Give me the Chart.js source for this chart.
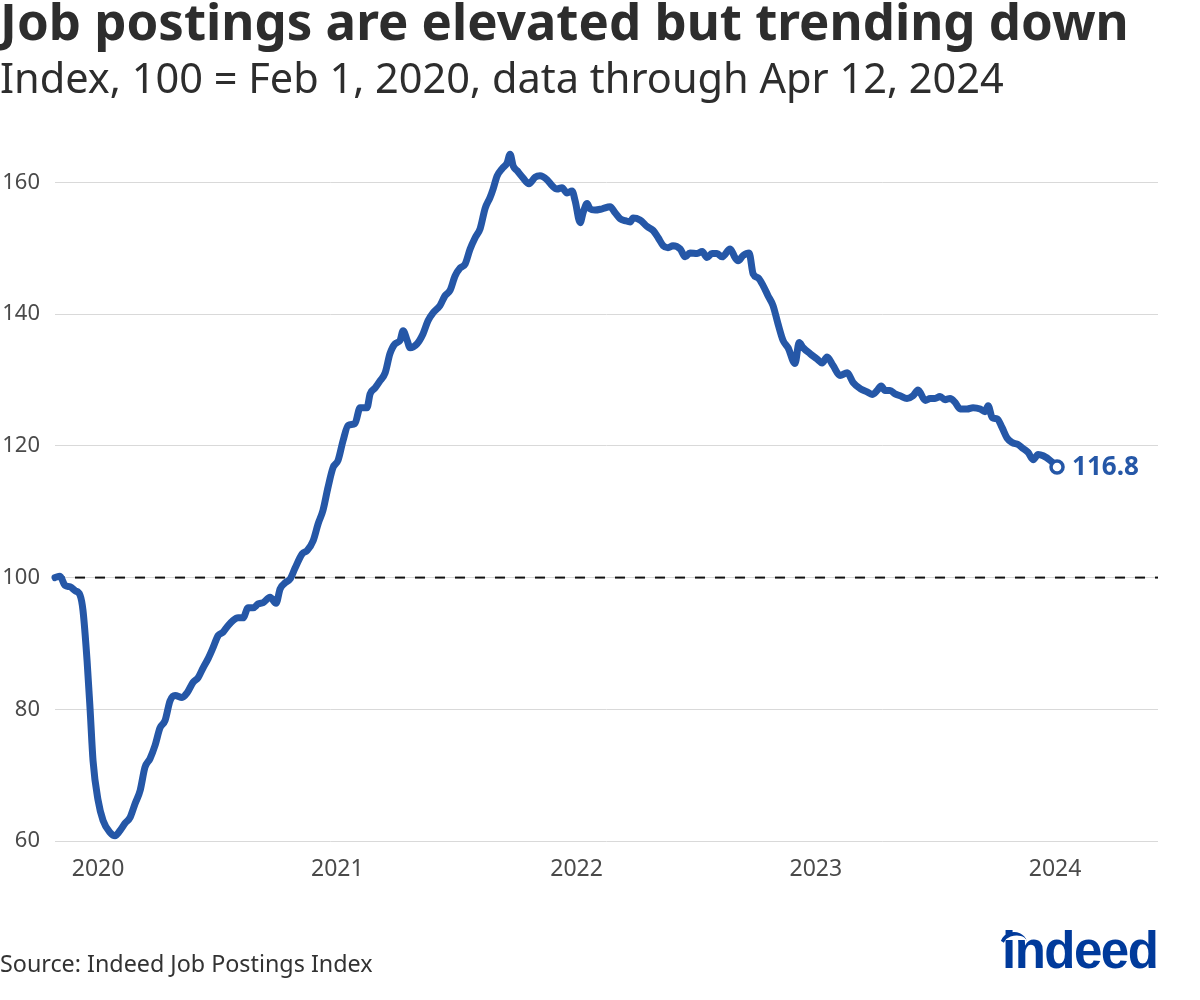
<!DOCTYPE html>
<html>
<head>
<meta charset="utf-8">
<script src="https://cdn.jsdelivr.net/npm/chart.js@4.4.1/dist/chart.umd.min.js"></script>
<style>
html, body { margin: 0; padding: 0; background: #fff; }
#wrap { position: relative; width: 1200px; height: 1000px; overflow: hidden; font-family: "Noto Sans", sans-serif; }
#chart { position: absolute; left: 0; top: 0; }
.txt { position: absolute; left: 0; white-space: nowrap; line-height: 1; color: #2d2d2d; }
#title { top: -5px; font-size: 51px; font-weight: 700; }
#subtitle { top: 57px; font-size: 41.5px; }
#source { top: 952px; font-size: 23.3px; color: #333; }
#logo { position: absolute; left: 1002px; top: 925px; font-family: "Liberation Sans", Arial, sans-serif; font-weight: 700; font-size: 51px; color: #003a9b; letter-spacing: -1.5px; line-height: 1; }
#arc { position: absolute; left: 1000px; top: 932px; width: 28px; height: 28px; border-top: 4px solid #003a9b; border-left: 3px solid transparent; border-radius: 50%; transform: rotate(-20deg); box-sizing: border-box; }
</style>
</head>
<body>
<div id="wrap">
  <canvas id="chart" width="1200" height="1000"></canvas>
  <div id="title" class="txt">Job postings are elevated but trending down</div>
  <div id="subtitle" class="txt">Index, 100 = Feb 1, 2020, data through Apr 12, 2024</div>
  <div id="source" class="txt">Source: Indeed Job Postings Index</div>
  <div id="arc"></div>
  <div id="logo">indeed</div>
</div>
<script>
// x positions are in axis-years (integer = where the year label sits)
const xs = [
  2019.820, 2019.841, 2019.862, 2019.883, 2019.904, 2019.925, 2019.937, 2019.954, 2019.967, 2019.979,
  2020.000, 2020.021, 2020.050, 2020.071, 2020.092, 2020.113, 2020.134, 2020.155, 2020.176, 2020.196,
  2020.217, 2020.238, 2020.259, 2020.280, 2020.301, 2020.322, 2020.351, 2020.372, 2020.397, 2020.418,
  2020.439, 2020.460, 2020.481, 2020.502, 2020.522, 2020.543, 2020.564, 2020.585, 2020.606, 2020.627,
  2020.648, 2020.669, 2020.690, 2020.719, 2020.744, 2020.761, 2020.782, 2020.803, 2020.823, 2020.853,
  2020.874, 2020.899, 2020.920, 2020.940, 2020.961, 2020.982, 2021.003, 2021.024, 2021.045, 2021.074,
  2021.095, 2021.124, 2021.137, 2021.158, 2021.179, 2021.200, 2021.220, 2021.241, 2021.262, 2021.275,
  2021.292, 2021.304, 2021.333, 2021.358, 2021.379, 2021.400, 2021.429, 2021.450, 2021.471, 2021.492,
  2021.513, 2021.534, 2021.555, 2021.576, 2021.597, 2021.618, 2021.638, 2021.651, 2021.668, 2021.689,
  2021.710, 2021.722, 2021.735, 2021.751, 2021.776, 2021.801, 2021.827, 2021.847, 2021.877, 2021.898,
  2021.918, 2021.939, 2021.960, 2021.981, 2021.994, 2022.015, 2022.027, 2022.044, 2022.056, 2022.077,
  2022.107, 2022.140, 2022.161, 2022.182, 2022.203, 2022.224, 2022.236, 2022.265, 2022.295, 2022.320,
  2022.341, 2022.362, 2022.382, 2022.403, 2022.433, 2022.454, 2022.474, 2022.504, 2022.525, 2022.545,
  2022.566, 2022.587, 2022.608, 2022.642, 2022.662, 2022.675, 2022.696, 2022.721, 2022.738, 2022.759,
  2022.780, 2022.800, 2022.821, 2022.842, 2022.863, 2022.884, 2022.913, 2022.930, 2022.947, 2022.976,
  2023.005, 2023.026, 2023.047, 2023.072, 2023.101, 2023.131, 2023.156, 2023.185, 2023.214, 2023.235,
  2023.256, 2023.273, 2023.289, 2023.310, 2023.331, 2023.352, 2023.381, 2023.406, 2023.427, 2023.457,
  2023.478, 2023.498, 2023.519, 2023.540, 2023.561, 2023.582, 2023.603, 2023.632, 2023.657, 2023.687,
  2023.707, 2023.720, 2023.737, 2023.758, 2023.778, 2023.799, 2023.820, 2023.845, 2023.866, 2023.887,
  2023.908, 2023.929, 2023.950, 2023.979, 2024.008
]

const postings = [
  100.0, 100.2, 98.8, 98.6, 98.0, 97.3, 95.0, 87.4, 79.8, 72.2,
  66.2, 63.1, 61.3, 60.8, 61.6, 62.7, 63.6, 65.7, 67.7, 71.2,
  72.5, 74.5, 77.2, 78.3, 81.3, 82.1, 81.8, 82.5, 84.1, 84.8,
  86.3, 87.7, 89.4, 91.2, 91.7, 92.7, 93.5, 93.9, 93.9, 95.4,
  95.4, 96.0, 96.2, 97.0, 96.1, 98.3, 99.2, 99.8, 101.4, 103.6,
  104.1, 105.6, 108.2, 110.2, 113.7, 116.7, 117.8, 120.8, 123.1, 123.4,
  125.8, 125.8, 127.9, 128.8, 129.9, 131.1, 134.0, 135.5, 136.0, 137.5,
  136.0, 134.9, 135.5, 137.0, 139.0, 140.2, 141.3, 142.8, 143.6, 145.8,
  147.0, 147.6, 149.9, 151.6, 153.0, 156.1, 157.7, 159.0, 161.0, 162.1,
  163.0, 164.3, 162.5, 161.8, 160.7, 159.8, 160.8, 161.0, 160.4, 159.5,
  159.0, 159.2, 158.4, 158.7, 157.2, 153.9, 155.4, 156.8, 156.0, 155.8,
  156.0, 156.3, 155.4, 154.5, 154.2, 154.0, 154.6, 154.3, 153.3, 152.7,
  151.6, 150.4, 150.1, 150.4, 149.9, 148.7, 149.3, 149.2, 149.5, 148.6,
  149.2, 149.2, 148.7, 149.9, 148.6, 148.1, 148.9, 149.3, 146.1, 145.5,
  144.3, 142.8, 141.3, 138.5, 136.0, 134.9, 132.5, 135.7, 134.9, 134.0,
  133.2, 132.6, 133.5, 132.2, 130.7, 131.1, 129.6, 128.7, 128.2, 127.8,
  128.4, 129.1, 128.4, 128.4, 127.9, 127.6, 127.2, 127.6, 128.5, 126.9,
  127.2, 127.2, 127.5, 127.0, 127.2, 126.6, 125.6, 125.6, 125.8, 125.6,
  125.2, 126.1, 124.3, 124.1, 122.8, 121.2, 120.5, 120.2, 119.6, 119.0,
  117.9, 118.7, 118.5, 117.8, 116.8
]

const yearTicks = [2020, 2021, 2022, 2023, 2024]
const yTicks = [60, 80, 100, 120, 140, 160]
const baseline = 100
const lastLabel = "116.8"

const blue = "#2557a7"
const font = "'Noto Sans', sans-serif"

const refLine = {
    id: "refLine",
    beforeDatasetsDraw(chart) {
        const ctx = chart.ctx
        const area = chart.chartArea
        const y = chart.scales.y.getPixelForValue(baseline)
        ctx.save()
        ctx.strokeStyle = "#111"
        ctx.lineWidth = 2
        ctx.setLineDash([10, 10])
        ctx.beginPath()
        ctx.moveTo(area.left, y)
        ctx.lineTo(area.right, y)
        ctx.stroke()
        ctx.restore()
    }
}

const endLabel = {
    id: "endLabel",
    afterDatasetsDraw(chart) {
        const meta = chart.getDatasetMeta(0)
        const pt = meta.data[meta.data.length - 1]
        const ctx = chart.ctx
        ctx.save()
        ctx.fillStyle = blue
        ctx.font = "700 26px " + font
        ctx.textBaseline = "middle"
        ctx.textAlign = "left"
        ctx.fillText(lastLabel, pt.x + 15, pt.y + 1)
        ctx.restore()
    }
}

new Chart(document.getElementById("chart"), {
    type: "line",
    data: {
        datasets: [{
            data: xs.map((x, i) => ({ x: x, y: postings[i] })),
            borderColor: blue,
            borderWidth: 7,
            borderCapStyle: "round",
            borderJoinStyle: "round",
            cubicInterpolationMode: "monotone",
            pointRadius: ctx => ctx.dataIndex == postings.length - 1 ? 6 : 0,
            pointBackgroundColor: "#fff",
            pointBorderColor: blue,
            pointBorderWidth: 3.5,
            clip: false
        }]
    },
    options: {
        responsive: false,
        animation: false,
        devicePixelRatio: 1,
        layout: {
            padding: { top: 116.6, right: 42, bottom: 0, left: 0 }
        },
        scales: {
            x: {
                type: "linear",
                min: 2019.82,
                max: 2024.43,
                afterFit: s => { s.height = 159 },
                afterBuildTicks: s => { s.ticks = yearTicks.map(v => ({ value: v })) },
                grid: { display: false, drawTicks: false },
                border: { display: false },
                ticks: {
                    padding: 15,
                    maxRotation: 0,
                    autoSkip: false,
                    color: "#4a4a4a",
                    font: { family: font, size: 23 },
                    callback: v => String(v)
                }
            },
            y: {
                min: 60,
                max: 170,
                afterFit: s => { s.width = 55 },
                afterBuildTicks: s => { s.ticks = yTicks.map(v => ({ value: v })) },
                grid: { color: "#d9d9d9", lineWidth: 1, drawTicks: false },
                border: { display: false },
                ticks: {
                    padding: 15,
                    color: "#4a4a4a",
                    font: { family: font, size: 22 }
                }
            }
        },
        plugins: {
            legend: { display: false },
            tooltip: { enabled: false }
        }
    },
    plugins: [refLine, endLabel]
})
</script>
</body>
</html>
